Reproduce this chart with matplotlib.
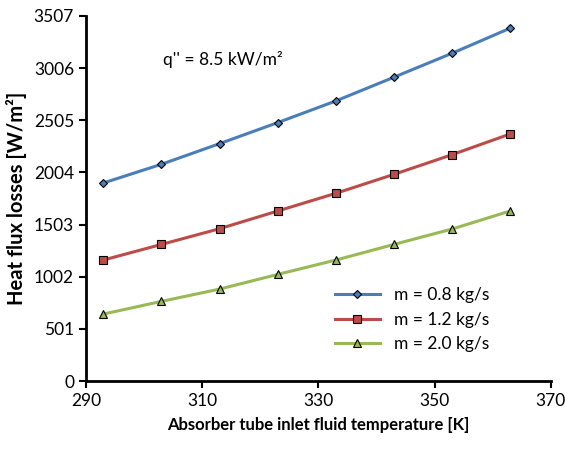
import matplotlib
matplotlib.use("Agg")
import matplotlib.pyplot as plt

plt.rcParams['font.family'] = ['Lato', 'DejaVu Sans']

temps = [293, 303, 313, 323, 333, 343, 353, 363]
loss_08 = [1903, 2083, 2281, 2483, 2691, 2919, 3149, 3390]
loss_12 = [1163, 1313, 1464, 1634, 1804, 1986, 2175, 2374]
loss_20 = [644, 766, 884, 1025, 1163, 1313, 1461, 1634]
yticks = [0, 501, 1002, 1503, 2004, 2505, 3006, 3507]
xticks = [290, 310, 330, 350, 370]

fig = plt.figure(figsize=(5.65, 4.57), dpi=100)
ax = fig.add_axes([0.152, 0.166, 0.823, 0.799])

ax.plot(temps, loss_08, color='#4a7ebb', lw=2.2, marker='D', ms=4.5,
        mfc='#4a7ebb', mec='black', mew=0.8, label='m = 0.8 kg/s')
ax.plot(temps, loss_12, color='#be4b48', lw=2.2, marker='s', ms=6,
        mfc='#be4b48', mec='black', mew=0.8, label='m = 1.2 kg/s')
ax.plot(temps, loss_20, color='#98b954', lw=2.2, marker='^', ms=6,
        mfc='#98b954', mec='black', mew=0.8, label='m = 2.0 kg/s')

ax.set_xlim(290, 370)
ax.set_ylim(0, 3507)
ax.set_xticks(xticks)
ax.set_yticks(yticks)
ax.tick_params(labelsize=12.5, width=1.5, length=5, direction='out')
for s in ['top', 'right']:
    ax.spines[s].set_visible(False)
for s in ['left', 'bottom']:
    ax.spines[s].set_linewidth(2)

ax.set_xlabel('Absorber tube inlet fluid temperature [K]', fontsize=12,
              fontweight='bold', labelpad=6)
ax.set_ylabel('Heat flux losses [W/m²]', fontsize=14.5, fontweight='bold', labelpad=5)

ax.text(0.165, 0.865, "q'' = 8.5 kW/m²", transform=ax.transAxes, fontsize=12.5)

ax.legend(loc='lower left', bbox_to_anchor=(0.52, 0.06), frameon=False,
          fontsize=12.5, handlelength=2.6, labelspacing=0.5, borderaxespad=0)

fig.savefig('out.png', dpi=100)
